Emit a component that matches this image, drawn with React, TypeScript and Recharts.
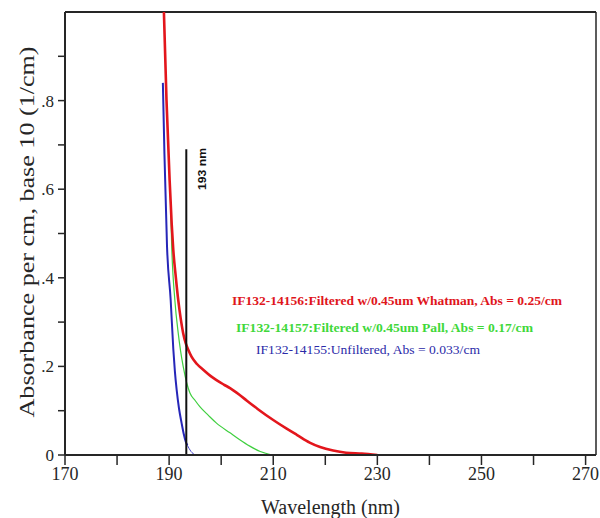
import React from "react";
import { LineChart, Line, XAxis, YAxis, ReferenceLine } from "recharts";

// IF132-14156, filtered w/0.45um Whatman (red)
const redWavelength = [189.0, 189.5, 190.1, 190.5, 190.8, 191.3, 191.75, 192.2, 192.7, 193.2, 193.7, 194.3, 195.3, 196.6, 198.0, 199.1, 200.5, 201.7, 203.5, 205.0, 207.0, 210.0, 212.5, 214.6, 217.0, 219.0, 221.5, 224.0, 227.0, 230.0];
const redAbsorbance = [1.0, 0.8, 0.62, 0.52, 0.463, 0.4, 0.35, 0.31, 0.275, 0.252, 0.237, 0.222, 0.206, 0.192, 0.178, 0.169, 0.159, 0.151, 0.136, 0.122, 0.104, 0.079, 0.06, 0.045, 0.028, 0.018, 0.01, 0.005, 0.003, 0.0];

// IF132-14157, filtered w/0.45um Pall (green)
const greenWavelength = [190.2, 190.5, 191.1, 191.75, 192.2, 192.7, 193.4, 194.0, 195.0, 195.9, 197.5, 199.1, 201.7, 203.5, 205.5, 207.5, 210.0];
const greenAbsorbance = [0.6, 0.47, 0.35, 0.275, 0.235, 0.2, 0.162, 0.14, 0.123, 0.109, 0.09, 0.072, 0.05, 0.035, 0.02, 0.008, 0.0];

// IF132-14155, unfiltered (blue); the tail past 193.5 nm is drawn thinner
const blueWavelength = [188.8, 189.1, 189.6, 190.3, 190.8, 191.1, 191.45, 191.9, 192.4, 192.8, 193.2, 193.5];
const blueAbsorbance = [0.84, 0.68, 0.47, 0.35, 0.24, 0.19, 0.147, 0.105, 0.072, 0.048, 0.03, 0.022];
const blueTailWavelength = [193.5, 194.2, 195.0];
const blueTailAbsorbance = [0.022, 0.008, 0.0];

const xTicks = [170, 180, 190, 200, 210, 220, 230, 240, 250, 260, 270];
const xLabelled = [170, 190, 210, 230, 250, 270];
const yTicks = [0, 0.1, 0.2, 0.3, 0.4, 0.5, 0.6, 0.7, 0.8, 0.9];
const yLabels: Record<string, string> = { "0": "0", "0.2": ".2", "0.4": ".4", "0.6": ".6", "0.8": ".8" };

const markerNm = 193.3;
const markerTop = 0.69;

const toPoints = (wl: number[], abs: number[]) => wl.map((w, i) => ({ wl: w, abs: abs[i] }));

const SERIF = "'Liberation Serif', 'Times New Roman', serif";
const AXIS = "#262626";

function YTitle() {
  return (
    <text
      x={26}
      y={232}
      transform="rotate(-90 26 232)"
      textAnchor="middle"
      dominantBaseline="central"
      fontFamily={SERIF}
      fontSize={22}
      fill={AXIS}
      textLength={371}
      lengthAdjust="spacingAndGlyphs"
    >
      Absorbance per cm, base 10 (1/cm)
    </text>
  );
}

export default function App() {
  return (
    <div style={{ position: "absolute", left: 0, top: 0, width: 600, height: 518, background: "#fff" }}>
      <LineChart width={600} height={518} margin={{ top: 12, right: 4, left: 0, bottom: 0 }}>
        <XAxis
          dataKey="wl"
          type="number"
          domain={[170, 272]}
          ticks={xTicks}
          allowDataOverflow
          height={63}
          tickSize={10}
          tickMargin={2}
          axisLine={{ stroke: AXIS, strokeWidth: 2 }}
          tickLine={{ stroke: AXIS, strokeWidth: 1.5 }}
          tick={{ fill: AXIS, fontSize: 18, fontFamily: SERIF }}
          tickFormatter={(v: number) => (xLabelled.includes(v) ? String(v) : "")}
          label={{ value: "Wavelength (nm)", position: "insideBottom", offset: 4, fontSize: 20, fontFamily: SERIF, fill: AXIS }}
        />
        <YAxis
          type="number"
          domain={[0, 1]}
          ticks={yTicks}
          allowDataOverflow
          width={65}
          tickSize={7}
          tickMargin={4}
          axisLine={{ stroke: AXIS, strokeWidth: 2 }}
          tickLine={{ stroke: AXIS, strokeWidth: 1.5 }}
          tick={{ fill: AXIS, fontSize: 17, fontFamily: SERIF }}
          tickFormatter={(v: number) => yLabels[String(v)] ?? ""}
          label={{ content: () => <YTitle /> }}
        />
        <ReferenceLine y={1} stroke={AXIS} strokeWidth={2} />
        <ReferenceLine x={272} stroke={AXIS} strokeWidth={1.5} />
        <Line data={toPoints(greenWavelength, greenAbsorbance)} dataKey="abs" type="monotone" stroke="#3fcf3f" strokeWidth={1.2} dot={false} isAnimationActive={false} />
        <Line data={toPoints(blueTailWavelength, blueTailAbsorbance)} dataKey="abs" type="monotone" stroke="#4a4ad0" strokeWidth={1} dot={false} isAnimationActive={false} />
        <Line data={toPoints(blueWavelength, blueAbsorbance)} dataKey="abs" type="monotone" stroke="#2626b8" strokeWidth={2} dot={false} isAnimationActive={false} />
        <Line data={toPoints(redWavelength, redAbsorbance)} dataKey="abs" type="monotone" stroke="#e3161c" strokeWidth={2.6} dot={false} isAnimationActive={false} />
        <ReferenceLine
          segment={[{ x: markerNm, y: 0 }, { x: markerNm, y: markerTop }]}
          stroke="#111"
          strokeWidth={2}
        />
      </LineChart>
      <svg width={600} height={518} style={{ position: "absolute", left: 0, top: 0, pointerEvents: "none" }}>
        <text
          x={202}
          y={169}
          transform="rotate(-90 202 169)"
          textAnchor="middle"
          dominantBaseline="central"
          fontFamily="'Liberation Sans Narrow', 'Liberation Sans', sans-serif"
          fontWeight="bold"
          fontSize={11}
          fill="#111"
          textLength={42}
          lengthAdjust="spacingAndGlyphs"
        >
          193 nm
        </text>
        <text x={232} y={305} fontFamily={SERIF} fontWeight="bold" fontSize={13.5} fill="#e0161c" textLength={330} lengthAdjust="spacingAndGlyphs">
          IF132-14156:Filtered w/0.45um Whatman, Abs = 0.25/cm
        </text>
        <text x={236} y={332} fontFamily={SERIF} fontWeight="bold" fontSize={13} fill="#3fd83a" textLength={297} lengthAdjust="spacingAndGlyphs">
          IF132-14157:Filtered w/0.45um Pall, Abs = 0.17/cm
        </text>
        <text x={256} y={354} fontFamily={SERIF} fontSize={13} fill="#2a2aa8" textLength={224} lengthAdjust="spacingAndGlyphs">
          IF132-14155:Unfiltered, Abs = 0.033/cm
        </text>
      </svg>
    </div>
  );
}
